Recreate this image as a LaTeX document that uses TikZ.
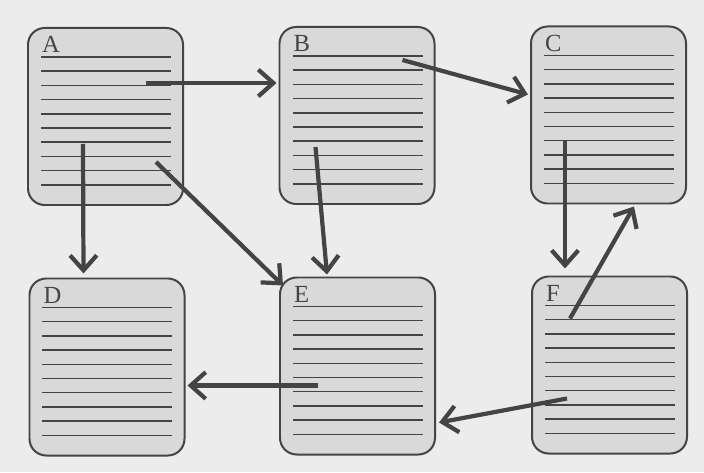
\documentclass[tikz,border=0pt]{standalone}
\usepackage{fontspec}
\setmainfont{Liberation Serif}
\usetikzlibrary{arrows.meta}

\definecolor{ink}{HTML}{444444}
\definecolor{paper}{HTML}{ECECEC}
\definecolor{card}{HTML}{D9D9D9}

\tikzset{
  box/.style={draw=ink,fill=card,line width=1.7pt,rounded corners=0.5cm,
    minimum width=4.65cm,minimum height=5.31cm,outer sep=0pt},
  rule/.style={draw=ink,line width=1.3pt},
  letter/.style={anchor=base west,text=ink,inner sep=0pt,
    font=\fontsize{21}{21}\selectfont},
  link/.style={draw=ink,line width=3.6pt,-{Straight Barb[length=0.45cm,width=0.8cm]}}
}

\begin{document}
\begin{tikzpicture}[x=0.03cm,y=0.03cm]
\fill[paper] (0,0) rectangle (704,472);
\useasboundingbox (0,0) rectangle (704,472);

\node[box] (A) at (105.5,355.5) {};
\node[box] (B) at (357,356.5) {};
\node[box] (C) at (608.5,357) {};
\node[box] (D) at (107,105) {};
\node[box] (E) at (357.5,106) {};
\node[box] (F) at (609.5,107) {};

% ruled lines and letters
\foreach \n in {A,B,C,D,E,F}{
  \foreach \i in {0,...,9}
    \draw[rule] ([shift={(13,{-29-14.2*\i})}]\n.north west) -- ++(130,0);
  \node[letter] (l\n) at ([shift={(14,-25)}]\n.north west) {\n};
}

% arrows
\draw[link] ([shift={(118,-55)}]A.north west) -- ([shift={(-3,-56)}]B.north west);
\draw[link] ([shift={(123,-33)}]B.north west) -- ([shift={(-3,-68)}]C.north west);
\draw[link] ([shift={(55,-116)}]A.north west) -- ([shift={(54,5)}]D.north west);
\draw[link] ([shift={(128,-134)}]A.north west) -- ([shift={(3,-8)}]E.north west);
\draw[link] ([shift={(36,-120)}]B.north west) -- ([shift={(47,3)}]E.north west);
\draw[link] ([shift={(34,-115)}]C.north west) -- ([shift={(33,8)}]F.north west);
\draw[link] ([shift={(38,-42)}]F.north west) -- ([shift={(103,-3)}]C.south west);
\draw[link] ([shift={(38,-108)}]E.north west) -- ([shift={(3,-107)}]D.north east);
\draw[link] ([shift={(35,-122)}]F.north west) -- ([shift={(4,-145)}]E.north east);

\end{tikzpicture}
\end{document}
